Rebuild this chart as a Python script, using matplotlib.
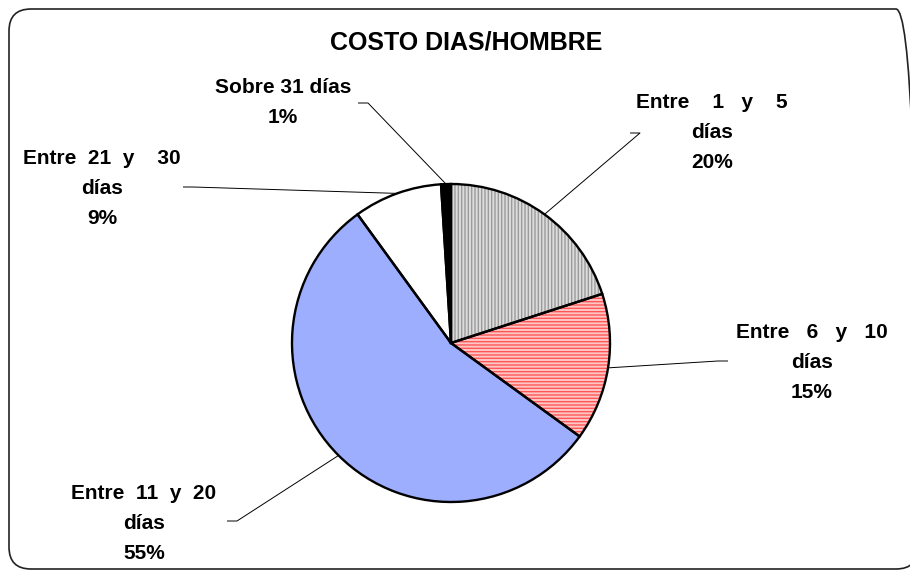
import numpy as np
import matplotlib
matplotlib.use("Agg")
from matplotlib import pyplot as plt
from matplotlib.patches import FancyBboxPatch

W, H = 910, 571

# datos
categorias = ["Entre    1   y    5", "Entre   6   y   10", "Entre  11  y  20",
              "Entre  21  y    30", "Sobre 31 días"]
valores = [20, 15, 55, 9, 1]
segunda_linea = ["días", "días", "días", "días", None]

colores = ["#DCDCDC", "#FFC6C6", "#9DAEFF", "#FFFFFF", "#000000"]
tramas = ["|||||", "-----", None, None, None]
color_trama = ["#9A9A9A", "#FF5656", "#9DAEFF", "#FFFFFF", "#000000"]

# posiciones de etiquetas (pixeles, y hacia abajo): x centro, linea base 1a linea
etiqueta_pos = [(712, 108), (812, 338), (144, 499), (102, 164), (283, 93)]
# inicio de la linea guia y direccion del tramo horizontal
guia_pos = [(630, 133, 10), (728, 361, -10), (227, 521, 10), (183, 187, 10), (358, 103, 10)]

centro = (451, 343)
radio = 159


def fy(y):
    return H - y


fig = plt.figure(figsize=(W / 100, H / 100), dpi=100)
ax = fig.add_axes([0, 0, 1, 1])

plt.rcParams["hatch.linewidth"] = 1.0

cx, cy = centro[0], fy(centro[1])
wedges, _ = ax.pie(valores, colors=colores, startangle=90, counterclock=False,
                   center=(cx, cy), radius=radio, wedgeprops=dict(linewidth=0))
for w, t, hc in zip(wedges, tramas, color_trama):
    w.set_edgecolor(hc)
    if t:
        w.set_hatch(t)

# contorno negro
ax.pie(valores, startangle=90, counterclock=False, center=(cx, cy), radius=radio,
       wedgeprops=dict(fill=False, edgecolor="black", linewidth=1.7))

fuente = "Liberation Sans"
for i, w in enumerate(wedges):
    x, y0 = etiqueta_pos[i]
    lineas = [categorias[i]]
    if segunda_linea[i]:
        lineas.append(segunda_linea[i])
    lineas.append(f"{valores[i]}%")
    for k, txt in enumerate(lineas):
        ax.text(x, fy(y0 + 30 * k), txt, ha="center", va="baseline",
                fontsize=15, fontweight="bold", family=fuente, color="black")

    # linea guia hasta el borde de la porcion
    ang = np.deg2rad((w.theta1 + w.theta2) / 2)
    ex = cx + radio * np.cos(ang)
    ey = cy + radio * np.sin(ang)
    gx, gy, dx = guia_pos[i]
    ax.plot([gx, gx + dx, ex], [fy(gy), fy(gy), ey], color="black", lw=0.7,
            solid_capstyle="butt")

ax.text(466, fy(43), "COSTO DIAS/HOMBRE", ha="center", va="center",
        fontsize=18, fontweight="bold", family=fuente)

marco = FancyBboxPatch((9, fy(569)), 909, 560,
                       boxstyle="round,pad=0,rounding_size=22",
                       fill=False, edgecolor="#222222", linewidth=1.2, clip_on=False)
ax.add_patch(marco)

ax.set_xlim(0, W)
ax.set_ylim(0, H)
ax.set_aspect("equal")
ax.axis("off")

fig.savefig("out.png", dpi=100, facecolor="white")
